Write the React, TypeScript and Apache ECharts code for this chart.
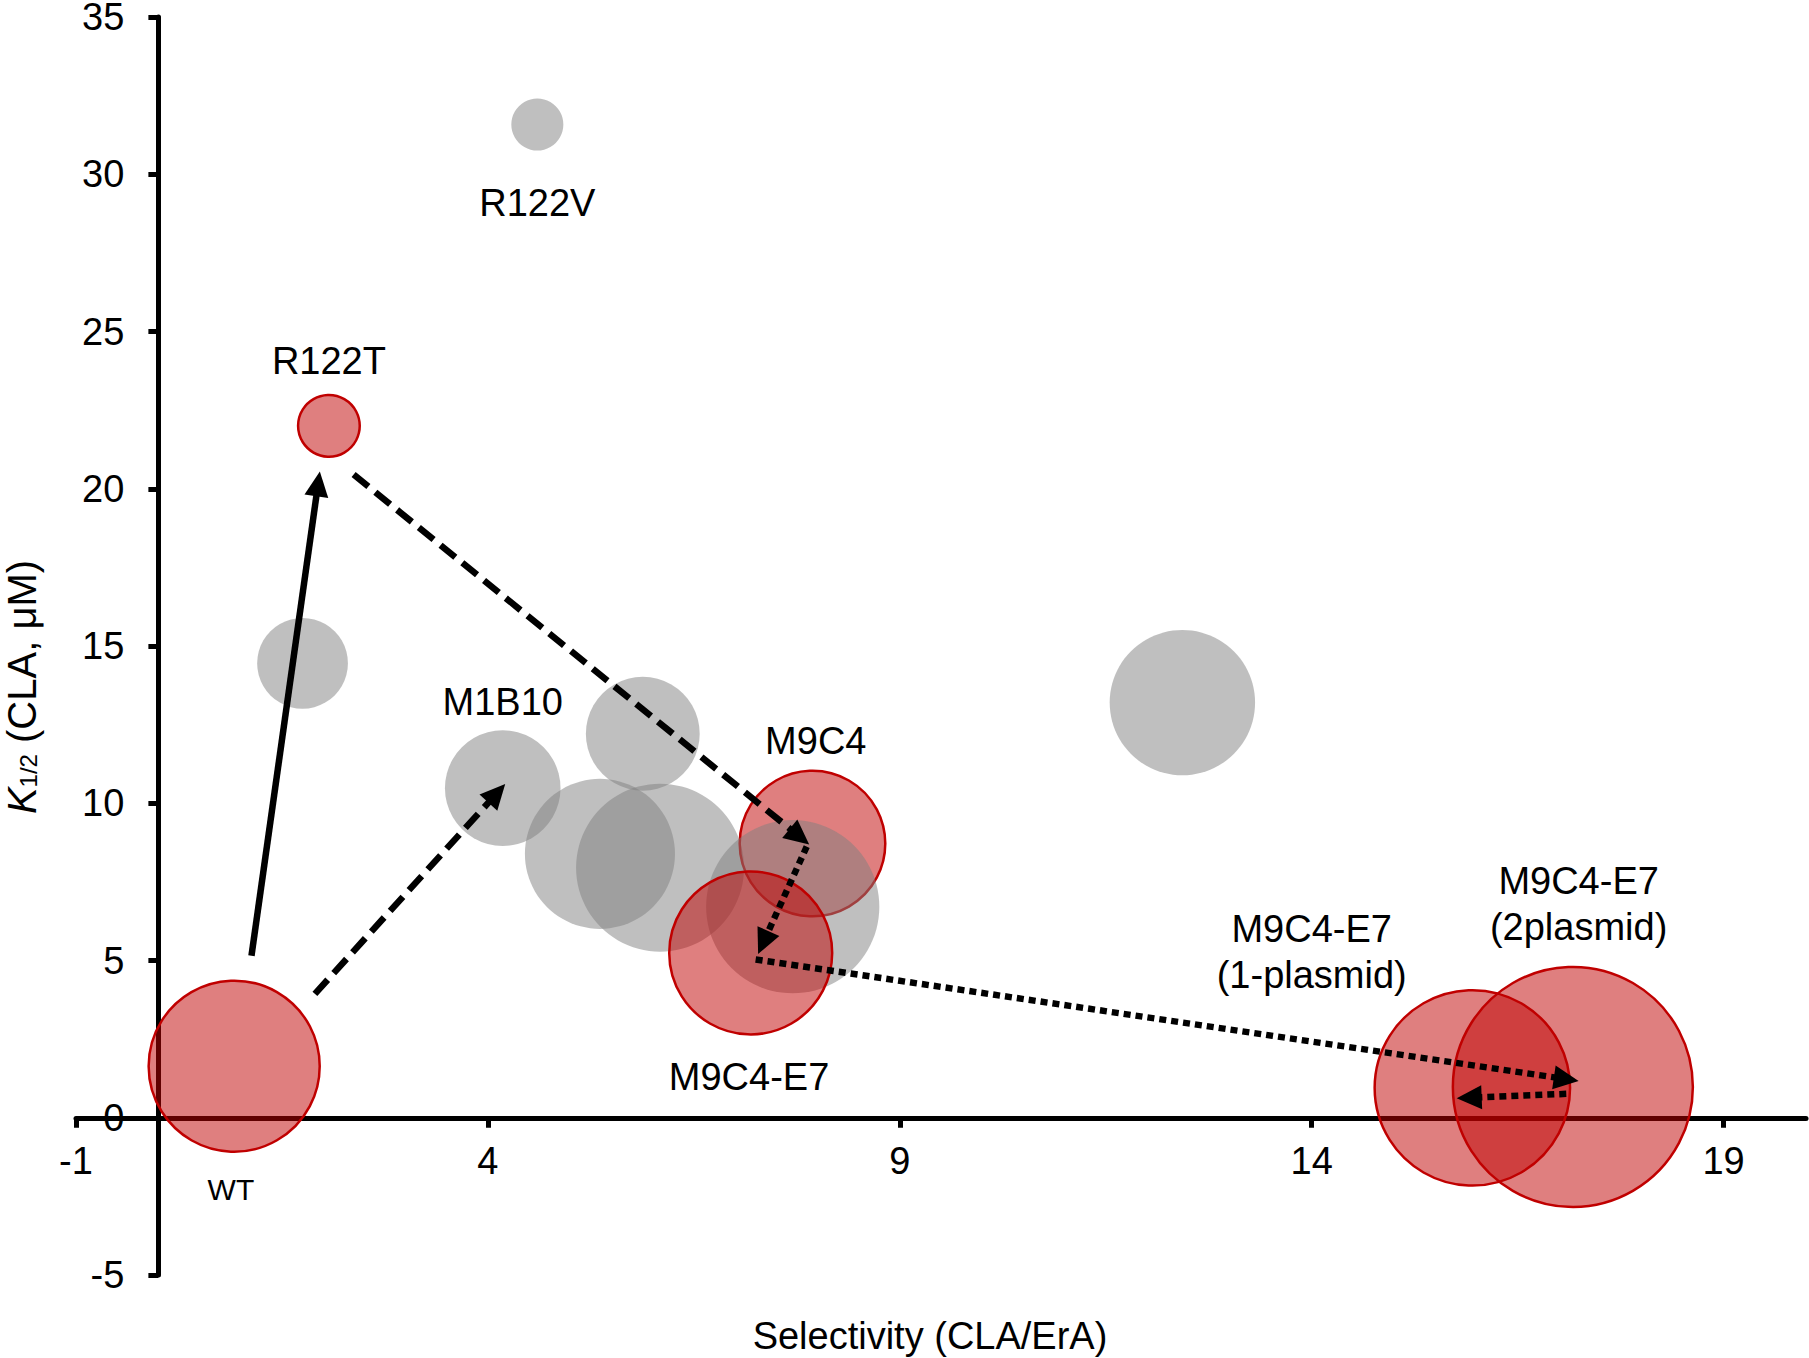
import React, { useEffect, useRef } from "react";
import * as echarts from "echarts";

// ---- Data ----
const variantNames = ["WT", "R122T", "R122V", "", "M1B10", "", "", "", "M9C4", "", "M9C4-E7", "", "M9C4-E7 (1-plasmid)", "M9C4-E7 (2plasmid)"];
const selectivity = [0.92, 2.07, 4.6, 1.75, 4.18, 5.88, 5.36, 6.09, 7.94, 7.7, 7.19, 12.43, 15.95, 17.17];
const k12 = [1.64, 22.0, 31.58, 14.45, 10.48, 12.21, 8.39, 7.95, 8.72, 6.71, 5.24, 13.2, 0.95, 0.98];
const bubbleSize = [50.8, 6.6, 4.7, 14.3, 23.2, 22.5, 39.1, 49.0, 36.8, 52.1, 46.1, 36.7, 66.3, 100];
const highlighted = [true, true, false, false, false, false, false, false, true, false, true, false, true, true];

const xTicks = [-1, 4, 9, 14, 19];

const labelTexts = ["R122V", "R122T", "M1B10", "M9C4", "M9C4-E7", "M9C4-E7\n(1-plasmid)", "M9C4-E7\n(2plasmid)", "WT"];
const labelX = [4.6, 2.07, 4.18, 7.98, 7.17, 14.0, 17.24, 0.88];
const labelY = [29.08, 24.06, 13.23, 11.99, 1.28, 5.26, 6.8, -2.28];

const arrowFromX = [1.13, 1.9, 2.37, 7.87, 7.25, 17.09];
const arrowFromY = [5.15, 3.94, 20.45, 8.62, 5.03, 0.76];
const arrowToX = [1.96, 4.21, 7.9, 7.28, 17.24, 15.76];
const arrowToY = [20.55, 10.61, 8.69, 5.21, 1.17, 0.62];
const arrowKind = ["solid", "dashed", "dashed", "dotted", "dotted", "dotted"];

const X_MIN = -1;
const X_MAX = 20;
const Y_MIN = -5;
const Y_MAX = 35;

const FONT = "'Liberation Sans', Arial, sans-serif";

const W = 1809;
const H = 1358;
const GRID = { left: 76, right: 3, top: 17, bottom: 83 };

export default function App() {
  const ref = useRef<HTMLDivElement>(null);

  useEffect(() => {
    if (!ref.current) return;
    const chart = echarts.init(ref.current, null, { renderer: "svg" });

    const gridW = W - GRID.left - GRID.right;
    const gridH = H - GRID.top - GRID.bottom;
    // axes cross at the origin
    const yAxisOffset = -((0 - X_MIN) / (X_MAX - X_MIN)) * gridW;
    const xAxisOffset = -((0 - Y_MIN) / (Y_MAX - Y_MIN)) * gridH;

    const bubbleData = selectivity.map((x, i) => ({
      name: variantNames[i],
      value: [x, k12[i], bubbleSize[i]],
      itemStyle: highlighted[i]
        ? { color: "rgba(192,0,0,0.5)", borderColor: "#C00000", borderWidth: 2.5, opacity: 1 }
        : { color: "rgba(128,128,128,0.5)", borderWidth: 0, opacity: 1 },
    }));

    const arrowData = arrowFromX.map((x, i) => [x, arrowFromY[i], arrowToX[i], arrowToY[i]]);

    const labelData = labelTexts.map((t, i) => ({
      name: t,
      value: [labelX[i], labelY[i]],
      label: t === "WT" ? { fontSize: 30 } : {},
    }));

    const option: any = {
      animation: false,
      backgroundColor: "#fff",
      grid: { ...GRID, containLabel: false, outerBoundsMode: "none" },
      xAxis: {
        type: "value",
        position: "bottom",
        offset: xAxisOffset,
        min: X_MIN,
        max: X_MAX,
        interval: 5,
        axisLine: { onZero: false, lineStyle: { color: "#000", width: 5 } },
        axisTick: { show: true, length: 10, customValues: xTicks, lineStyle: { color: "#000", width: 5 } },
        axisLabel: { customValues: xTicks, fontSize: 38, color: "#000", margin: 24, fontFamily: FONT },
        splitLine: { show: false },
        name: "Selectivity (CLA/ErA)",
        nameLocation: "middle",
        nameGap: 199,
        nameTextStyle: { fontSize: 38, color: "#000", fontFamily: FONT, padding: [0, 22, 0, 0] },
      },
      yAxis: {
        type: "value",
        position: "left",
        offset: yAxisOffset,
        min: Y_MIN,
        max: Y_MAX,
        interval: 5,
        axisLine: { onZero: false, lineStyle: { color: "#000", width: 5 } },
        axisTick: { show: true, length: 10, lineStyle: { color: "#000", width: 5 } },
        axisLabel: { fontSize: 38, lineHeight: 30, color: "#000", margin: 34, fontFamily: FONT },
        splitLine: { show: false },
        name: "{k|K}{s|1/2} (CLA, μM)",
        nameLocation: "middle",
        nameGap: 118,
        nameRotate: 90,
        nameTextStyle: {
          fontSize: 40,
          lineHeight: 36,
          color: "#000",
          fontFamily: FONT,
          padding: [0, 82, 0, 0],
          rich: {
            k: { fontSize: 40, lineHeight: 36, fontStyle: "italic", fontFamily: FONT, color: "#000" },
            s: { fontSize: 24, fontFamily: FONT, color: "#000", verticalAlign: "bottom", padding: [12, 0, 0, 0] },
          },
        },
      },
      series: [
        {
          type: "scatter",
          data: bubbleData,
          symbolSize: (v: number[]) => 240 * Math.sqrt(v[2] / 100),
          silent: true,
          z: 2,
          itemStyle: { opacity: 1 },
        },
        {
          type: "custom",
          data: arrowData,
          encode: { x: [0, 2], y: [1, 3] },
          silent: true,
          z: 3,
          renderItem: (params: any, api: any) => {
            const p1 = api.coord([api.value(0), api.value(1)]);
            const p2 = api.coord([api.value(2), api.value(3)]);
            const kind = arrowKind[params.dataIndex];
            const dx = p2[0] - p1[0];
            const dy = p2[1] - p1[1];
            const len = Math.hypot(dx, dy);
            const ux = dx / len;
            const uy = dy / len;
            const headLen = 25;
            const headHalf = 12;
            const bx = p2[0] - ux * headLen;
            const by = p2[1] - uy * headLen;
            const dash = kind === "dashed" ? [19, 9] : kind === "dotted" ? [7, 5] : null;
            return {
              type: "group",
              children: [
                {
                  type: "line",
                  shape: { x1: p1[0], y1: p1[1], x2: bx + ux * 2, y2: by + uy * 2 },
                  style: { stroke: "#000", lineWidth: 6.5, lineDash: dash, fill: null },
                },
                {
                  type: "polygon",
                  shape: {
                    points: [
                      [p2[0], p2[1]],
                      [bx - uy * headHalf, by + ux * headHalf],
                      [bx + uy * headHalf, by - ux * headHalf],
                    ],
                  },
                  style: { fill: "#000" },
                },
              ],
            };
          },
        },
        {
          type: "scatter",
          data: labelData,
          symbolSize: 1,
          itemStyle: { color: "rgba(0,0,0,0)", opacity: 1 },
          silent: true,
          z: 4,
          label: {
            show: true,
            position: "inside",
            formatter: "{b}",
            fontSize: 38,
            lineHeight: 46,
            color: "#000",
            fontFamily: FONT,
            align: "center",
          },
        },
      ],
    };

    chart.setOption(option);
    return () => chart.dispose();
  }, []);

  return (
    <div
      ref={ref}
      style={{ position: "absolute", left: 0, top: 0, width: W, height: H, background: "#fff" }}
    />
  );
}
